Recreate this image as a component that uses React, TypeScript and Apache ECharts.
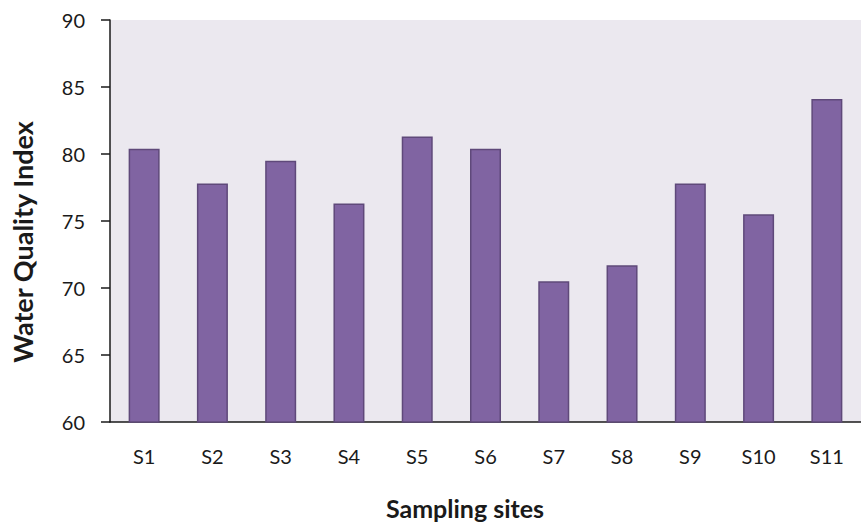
import React, { useEffect, useRef } from "react";
import * as echarts from "echarts";

const categories = ["S1", "S2", "S3", "S4", "S5", "S6", "S7", "S8", "S9", "S10", "S11"];
const wqiValues = [80.4, 77.8, 79.5, 76.3, 81.3, 80.4, 70.5, 71.7, 77.8, 75.5, 84.1];
const yAxisTitle = "Water Quality Index";
const xAxisTitle = "Sampling sites";

const FONT = "Lato, 'Open Sans', sans-serif";

export default function App() {
  const ref = useRef<HTMLDivElement>(null);
  useEffect(() => {
    if (!ref.current) return;
    const chart = echarts.init(ref.current, null, { renderer: "svg" });
    chart.setOption({
      animation: false,
      backgroundColor: "#ffffff",
      grid: {
        left: 110,
        top: 20,
        width: 766,
        height: 402,
        show: true,
        backgroundColor: "#ebe8ef",
        borderWidth: 0,
      },
      xAxis: {
        type: "category",
        data: categories,
        axisLine: { lineStyle: { color: "#1a1a1a", width: 1.5 } },
        axisTick: { alignWithLabel: true, length: 6, lineStyle: { color: "#1a1a1a", width: 1.5 } },
        axisLabel: { color: "#1a1a1a", fontSize: 20, fontFamily: FONT, margin: 24 },
      },
      yAxis: {
        type: "value",
        min: 60,
        max: 90,
        interval: 5,
        axisLine: { show: true, lineStyle: { color: "#1a1a1a", width: 1.5 } },
        axisTick: { show: true, length: 9, lineStyle: { color: "#1a1a1a", width: 1.5 } },
        splitLine: { show: false },
        axisLabel: { color: "#1a1a1a", fontSize: 20, fontFamily: FONT, margin: 25 },
      },
      series: [
        {
          type: "bar",
          data: wqiValues,
          barWidth: 31,
          itemStyle: { color: "#8064a2", borderColor: "#5f497a", borderWidth: 1.5 },
        },
      ],
      graphic: [
        {
          type: "text",
          x: 22,
          y: 242,
          rotation: Math.PI / 2,
          style: {
            text: yAxisTitle,
            fontSize: 27,
            fontWeight: "bold",
            fontFamily: FONT,
            fill: "#1a1a1a",
            align: "center",
            verticalAlign: "middle",
          },
        },
        {
          type: "text",
          x: 465,
          y: 508,
          style: {
            text: xAxisTitle,
            fontSize: 25,
            fontWeight: "bold",
            fontFamily: FONT,
            fill: "#1a1a1a",
            align: "center",
            verticalAlign: "middle",
          },
        },
      ],
    });
    return () => chart.dispose();
  }, []);
  return <div ref={ref} style={{ width: 861, height: 526, position: "absolute", left: 0, top: 0 }} />;
}
